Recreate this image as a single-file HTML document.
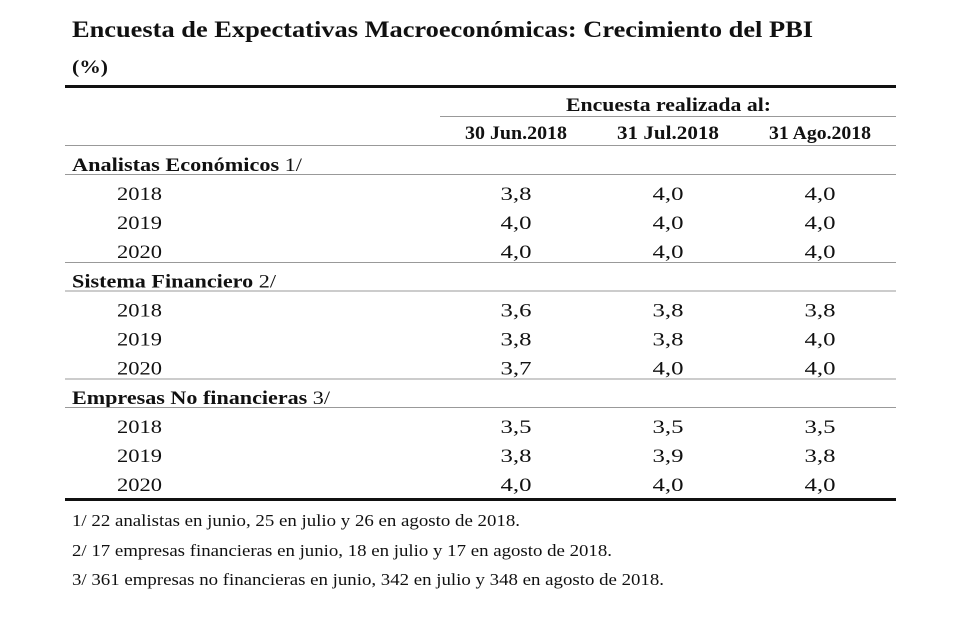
<!DOCTYPE html>
<html><head><meta charset="utf-8"><style>
html,body{margin:0;padding:0;background:#fff;}
svg{display:block;font-family:"Liberation Serif",serif;}
</style></head><body>
<svg width="980" height="631" viewBox="0 0 980 631">
<text x="72" y="37" font-size="23" font-weight="bold" fill="#111" textLength="741" lengthAdjust="spacingAndGlyphs">Encuesta de Expectativas Macroeconómicas: Crecimiento del PBI</text>
<text x="72" y="73" font-size="19" font-weight="bold" fill="#111" textLength="36" lengthAdjust="spacingAndGlyphs">(%)</text>
<rect x="65" y="85" width="831" height="3" fill="#111"/>
<text x="566" y="111" font-size="19" font-weight="bold" fill="#111" textLength="205" lengthAdjust="spacingAndGlyphs">Encuesta realizada al:</text>
<rect x="440" y="116" width="456" height="1" fill="#999"/>
<g id="cols" font-size="19" font-weight="bold" fill="#111"></g>
<g id="body" font-size="19" fill="#111"></g>
<rect x="65" y="498" width="831" height="3" fill="#111"/>
<g font-size="17" fill="#111">
<text x="72" y="526" textLength="448" lengthAdjust="spacingAndGlyphs">1/ 22 analistas en junio, 25 en julio y 26 en agosto de 2018.</text>
<text x="72" y="556" textLength="540" lengthAdjust="spacingAndGlyphs">2/ 17 empresas financieras en junio, 18 en julio y 17 en agosto de 2018.</text>
<text x="72" y="585" textLength="592" lengthAdjust="spacingAndGlyphs">3/ 361 empresas no financieras en junio, 342 en julio y 348 en agosto de 2018.</text>
</g>
</svg>
<script>
const columns = ["30 Jun.2018","31 Jul.2018","31 Ago.2018"];
const groups = ["Analistas Económicos","Sistema Financiero","Empresas No financieras"];
const notes = ["1/","2/","3/"];
const years = ["2018","2019","2020"];
const analistas = [[3.8,4.0,4.0],[4.0,4.0,4.0],[4.0,4.0,4.0]];
const financiero = [[3.6,3.8,3.8],[3.8,3.8,4.0],[3.7,4.0,4.0]];
const empresas = [[3.5,3.5,3.5],[3.8,3.9,3.8],[4.0,4.0,4.0]];
const groupWidths=[230,204,258];
const NS="http://www.w3.org/2000/svg";
const colX = i => 516 + i*152;
const svg=document.querySelector('svg');
const cg=document.getElementById('cols'), bg=document.getElementById('body');
function txt(p,x,y,s,w){const t=document.createElementNS(NS,'text');t.setAttribute('x',x);t.setAttribute('y',y);t.textContent=s;if(w){t.setAttribute('textLength',w);t.setAttribute('lengthAdjust','spacingAndGlyphs');}p.appendChild(t);return t;}
function line(y){const r=document.createElementNS(NS,'rect');r.setAttribute('x',65);r.setAttribute('y',y);r.setAttribute('width',831);r.setAttribute('height',1);r.setAttribute('fill','#999');


svg.appendChild(r);}
columns.forEach((c,i)=>{const t=txt(cg,colX(i)-51,139,c,102);

});
line(145);
const data=[analistas,financiero,empresas];
groups.forEach((g,gi)=>{
  const top=145+gi*116.5;
  const t=txt(bg,72,top+26,'',groupWidths[gi]);
  
  
  const b=document.createElementNS(NS,'tspan');b.setAttribute('font-weight','bold');b.textContent=g+' ';t.appendChild(b);
  const n=document.createElementNS(NS,'tspan');n.textContent=notes[gi];t.appendChild(n);
  line(top+29);
  years.forEach((y,ri)=>{
    const by=top+55+ri*29;
    const yl=txt(bg,117,by,y,45);
    
    
    data[gi][ri].forEach((v,ci)=>{
      const c=txt(bg,colX(ci)-15.5,by,v.toFixed(1).replace('.',','),31);
      
      
    });
  });
  if(gi<2) line(top+117);
});
</script>
</body></html>
